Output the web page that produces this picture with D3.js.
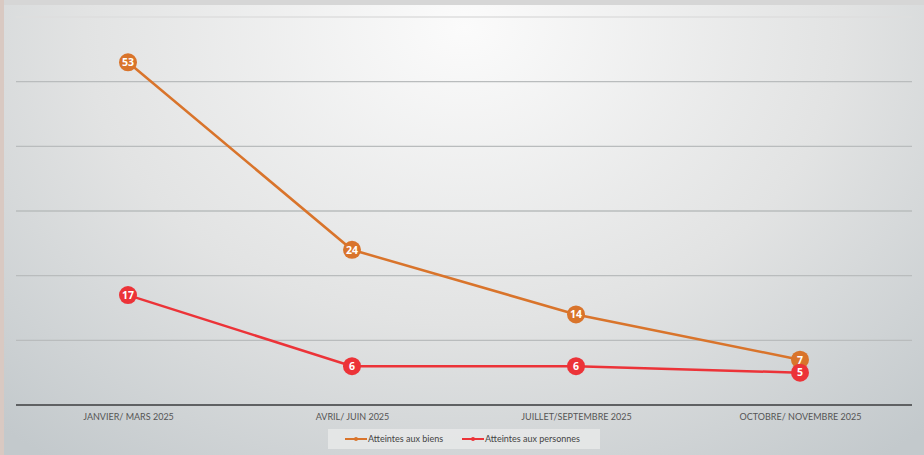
<!DOCTYPE html>
<html>
<head>
<meta charset="utf-8">
<script src="https://cdn.jsdelivr.net/npm/d3@7"></script>
<style>
  body { margin: 0; background: #d8d0cc; }
  svg { display: block; }
</style>
</head>
<body>
<script>
let width = 924
let height = 455

const periods = ["JANVIER/ MARS 2025", "AVRIL/ JUIN 2025", "JUILLET/SEPTEMBRE 2025", "OCTOBRE/ NOVEMBRE 2025"]
const biens = [53, 24, 14, 7]
const personnes = [17, 6, 6, 5]
const seriesNames = ["Atteintes aux biens", "Atteintes aux personnes"]
const seriesColors = ["#d9742b", "#ec3338"]
const yTicks = [0, 10, 20, 30, 40, 50, 60]

const svg = d3.select("body")
    .append('svg')
    .attr('width', width)
    .attr('height', height)

// background gradient
const defs = svg.append('defs')
const grad = defs.append('radialGradient')
    .attr('id', 'bg')
    .attr('cx', '50%').attr('cy', '5%').attr('r', '75%')
    .attr('gradientTransform', 'translate(0.5,0.05) scale(1,1.6) translate(-0.5,-0.05)')
grad.append('stop').attr('offset', '0%').attr('stop-color', '#fbfbfb')
grad.append('stop').attr('offset', '55%').attr('stop-color', '#e2e3e3')
grad.append('stop').attr('offset', '100%').attr('stop-color', '#c3c9cc')

svg.append('rect').attr('width', width).attr('height', height).attr('fill', '#d6d6d6')
svg.append('rect').attr('x', 0).attr('y', 0).attr('width', 4).attr('height', height).attr('fill', '#d9c9c2')
svg.append('rect').attr('x', 4).attr('y', 5).attr('width', width - 4).attr('height', height - 5).attr('fill', 'url(#bg)')

const x = d3.scalePoint()
    .domain(periods)
    .range([16, 912])
    .padding(0.5)

const y = d3.scaleLinear()
    .domain([0, 60])
    .range([405, 17])

// gridlines
svg.append('g')
    .selectAll('line')
    .data(yTicks.slice(1))
    .enter()
    .append('line')
        .attr('x1', 16)
        .attr('x2', 912)
        .attr('y1', d => y(d))
        .attr('y2', d => y(d))
        .attr('stroke', d => d == 60 ? '#dedede' : '#b9bcbd')
        .attr('stroke-width', 1.3)

// baseline
svg.append('line')
    .attr('x1', 16).attr('x2', 912)
    .attr('y1', y(0)).attr('y2', y(0))
    .attr('stroke', '#5f6163')
    .attr('stroke-width', 2)

// x labels
const xAxis = svg.append('g')
    .attr('transform', 'translate(0,' + y(0) + ')')
    .call(d3.axisBottom(x).tickSize(0).tickPadding(9))
xAxis.select('.domain').remove()
xAxis.selectAll('text')
    .style('font-family', 'Lato, "Open Sans", sans-serif')
    .style('font-size', '9px')
    .attr('fill', '#555')

const data = [biens, personnes]
const line = d3.line()
    .x((d, i) => x(periods[i]))
    .y(d => y(d))

data.forEach(function(values, s) {
    svg.append('path')
        .datum(values)
        .attr('d', line)
        .attr('fill', 'none')
        .attr('stroke', seriesColors[s])
        .attr('stroke-width', 2.5)

    const pts = svg.append('g')
        .selectAll('g')
        .data(values)
        .enter()
        .append('g')
        .attr('transform', (d, i) => 'translate(' + x(periods[i]) + ',' + y(d) + ')')
    pts.append('circle')
        .attr('r', 9)
        .attr('fill', seriesColors[s])
    pts.append('text')
        .attr('text-anchor', 'middle')
        .attr('dy', '0.36em')
        .attr('fill', 'white')
        .style('font-family', '"Open Sans", sans-serif')
        .style('font-weight', 'bold')
        .style('font-size', '10.5px')
        .text(d => d)
})

// legend
svg.append('rect')
    .attr('x', 328).attr('y', 429)
    .attr('width', 272).attr('height', 20)
    .attr('fill', '#e9eaea')
    .attr('opacity', 0.8)
const legend = svg.append('g')
const legX = [345, 462]
seriesNames.forEach(function(name, s) {
    legend.append('line')
        .attr('x1', legX[s]).attr('x2', legX[s] + 22)
        .attr('y1', 439).attr('y2', 439)
        .attr('stroke', seriesColors[s])
        .attr('stroke-width', 2)
    legend.append('circle')
        .attr('cx', legX[s] + 11).attr('cy', 439)
        .attr('r', 2)
        .attr('fill', seriesColors[s])
    legend.append('text')
        .attr('x', legX[s] + 23)
        .attr('y', 439)
        .attr('dy', '0.35em')
        .attr('fill', '#444')
        .style('font-family', 'Lato, "Open Sans", sans-serif')
        .style('font-size', '9px')
        .text(name)
})
</script>
</body>
</html>
